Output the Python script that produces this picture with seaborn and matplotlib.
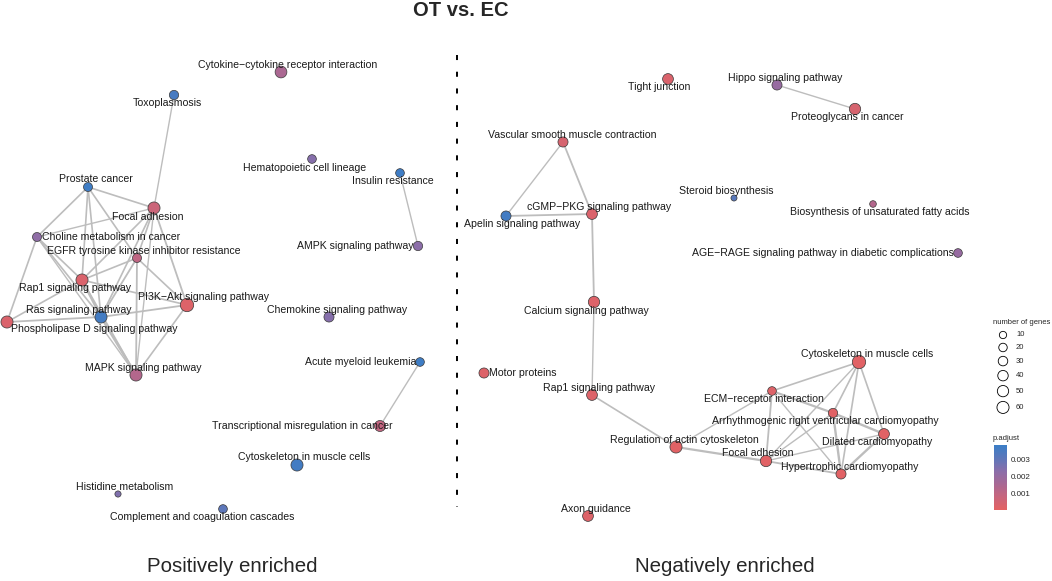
import numpy as np
import pandas as pd
import matplotlib.pyplot as plt
import seaborn as sns
from matplotlib.colors import LinearSegmentedColormap, Normalize
from matplotlib.cm import ScalarMappable

sns.set_style("white")
plt.rcParams['font.family'] = ['Liberation Sans', 'DejaVu Sans']

# ---- positively enriched network (layout coords, gene counts, p.adjust) ----
left_terms = ["Cytokine\u2212cytokine receptor interaction", "Toxoplasmosis", "Hematopoietic cell lineage",
              "Insulin resistance", "AMPK signaling pathway", "Chemokine signaling pathway",
              "Acute myeloid leukemia", "Transcriptional misregulation in cancer", "Cytoskeleton in muscle cells",
              "Complement and coagulation cascades", "Histidine metabolism", "Prostate cancer", "Focal adhesion",
              "Choline metabolism in cancer", "EGFR tyrosine kinase inhibitor resistance", "Rap1 signaling pathway",
              "PI3K\u2212Akt signaling pathway", "Ras signaling pathway", "Phospholipase D signaling pathway",
              "MAPK signaling pathway"]
left_x = [281, 174, 312, 400, 418, 329, 420, 380, 297, 223, 118, 88, 154, 37, 137, 82, 187, 101, 7, 136]
left_y = [72, 95, 159, 173, 246, 317, 362, 426, 465, 509, 494, 187, 208, 237, 258, 280, 305, 317, 322, 375]
left_lx = [288, 167, 305, 393, 355, 337, 361, 302, 304, 202, 125, 96, 148, 111, 144, 75, 203, 79, 94, 143]
left_ly = [65, 103, 168, 181, 246, 310, 362, 426, 457, 517, 487, 179, 217, 237, 251, 288, 297, 310, 329, 368]
left_genes = [56, 28, 22, 22, 28, 36, 22, 47, 60, 22, 2, 25, 60, 25, 25, 60, 78, 60, 60, 60]
left_padj = [0.0015, 0.0036, 0.0024, 0.0038, 0.0023, 0.0024, 0.0038, 0.0009, 0.0037, 0.0031,
             0.0025, 0.0038, 0.0007, 0.0022, 0.0010, 0.0003, 0.0002, 0.0037, 0.0003, 0.0013]
left_edges = [
    ("Toxoplasmosis", "Focal adhesion", 1.0),
    ("Insulin resistance", "AMPK signaling pathway", 1.0),
    ("Acute myeloid leukemia", "Transcriptional misregulation in cancer", 1.0),
    ("Prostate cancer", "Focal adhesion", 1.2),
    ("Prostate cancer", "Choline metabolism in cancer", 1.2),
    ("Prostate cancer", "Rap1 signaling pathway", 1.2),
    ("Prostate cancer", "Ras signaling pathway", 1.2),
    ("Prostate cancer", "EGFR tyrosine kinase inhibitor resistance", 1.2),
    ("Focal adhesion", "Choline metabolism in cancer", 1.0),
    ("Focal adhesion", "Rap1 signaling pathway", 1.2),
    ("Focal adhesion", "Ras signaling pathway", 1.2),
    ("Focal adhesion", "EGFR tyrosine kinase inhibitor resistance", 1.2),
    ("Focal adhesion", "PI3K\u2212Akt signaling pathway", 1.3),
    ("Focal adhesion", "MAPK signaling pathway", 1.0),
    ("Choline metabolism in cancer", "Rap1 signaling pathway", 1.2),
    ("Choline metabolism in cancer", "Ras signaling pathway", 1.2),
    ("Choline metabolism in cancer", "Phospholipase D signaling pathway", 1.2),
    ("Choline metabolism in cancer", "MAPK signaling pathway", 1.0),
    ("EGFR tyrosine kinase inhibitor resistance", "Rap1 signaling pathway", 1.2),
    ("EGFR tyrosine kinase inhibitor resistance", "Ras signaling pathway", 1.3),
    ("EGFR tyrosine kinase inhibitor resistance", "PI3K\u2212Akt signaling pathway", 1.2),
    ("EGFR tyrosine kinase inhibitor resistance", "MAPK signaling pathway", 1.3),
    ("Rap1 signaling pathway", "Ras signaling pathway", 1.7),
    ("Rap1 signaling pathway", "PI3K\u2212Akt signaling pathway", 1.2),
    ("Rap1 signaling pathway", "MAPK signaling pathway", 1.3),
    ("Rap1 signaling pathway", "Phospholipase D signaling pathway", 1.2),
    ("Ras signaling pathway", "PI3K\u2212Akt signaling pathway", 1.3),
    ("Ras signaling pathway", "MAPK signaling pathway", 1.8),
    ("Ras signaling pathway", "Phospholipase D signaling pathway", 1.3),
    ("PI3K\u2212Akt signaling pathway", "MAPK signaling pathway", 1.2),
]

# ---- negatively enriched network ----
right_terms = ["Tight junction", "Hippo signaling pathway", "Proteoglycans in cancer",
               "Vascular smooth muscle contraction", "cGMP\u2212PKG signaling pathway", "Apelin signaling pathway",
               "Steroid biosynthesis", "Biosynthesis of unsaturated fatty acids",
               "AGE\u2212RAGE signaling pathway in diabetic complications", "Calcium signaling pathway",
               "Motor proteins", "Rap1 signaling pathway", "Cytoskeleton in muscle cells",
               "ECM\u2212receptor interaction", "Arrhythmogenic right ventricular cardiomyopathy",
               "Dilated cardiomyopathy", "Regulation of actin cytoskeleton", "Focal adhesion",
               "Hypertrophic cardiomyopathy", "Axon guidance"]
right_x = [668, 777, 855, 563, 592, 506, 734, 873, 958, 594, 484, 592, 859, 772, 833, 884, 676, 766, 841, 588]
right_y = [79, 85, 109, 142, 214, 216, 198, 204, 253, 302, 373, 395, 362, 391, 413, 434, 447, 461, 474, 516]
right_lx = [659, 785, 847, 572, 599, 522, 726, 880, 823, 586, 523, 599, 867, 764, 825, 877, 684, 758, 850, 596]
right_ly = [87, 78, 117, 135, 207, 224, 191, 212, 253, 311, 373, 388, 354, 399, 421, 442, 440, 453, 467, 509]
right_genes = [44, 36, 51, 36, 44, 36, 1, 5, 22, 51, 36, 44, 78, 22, 28, 44, 60, 51, 36, 44]
right_padj = [0.0003, 0.0020, 0.0004, 0.0004, 0.0003, 0.0037, 0.0032, 0.0013, 0.0020, 0.0002,
              0.0002, 0.0002, 0.0001, 0.0002, 0.0001, 0.0001, 0.0001, 0.0001, 0.0001, 0.0002]
right_edges = [
    ("Hippo signaling pathway", "Proteoglycans in cancer", 1.0),
    ("Vascular smooth muscle contraction", "Apelin signaling pathway", 1.0),
    ("Vascular smooth muscle contraction", "cGMP\u2212PKG signaling pathway", 1.3),
    ("Apelin signaling pathway", "cGMP\u2212PKG signaling pathway", 1.3),
    ("cGMP\u2212PKG signaling pathway", "Calcium signaling pathway", 1.3),
    ("Calcium signaling pathway", "Rap1 signaling pathway", 1.0),
    ("Rap1 signaling pathway", "Regulation of actin cytoskeleton", 1.2),
    ("Regulation of actin cytoskeleton", "Focal adhesion", 1.6),
    ("Regulation of actin cytoskeleton", "ECM\u2212receptor interaction", 1.0),
    ("Cytoskeleton in muscle cells", "ECM\u2212receptor interaction", 1.2),
    ("Cytoskeleton in muscle cells", "Arrhythmogenic right ventricular cardiomyopathy", 1.2),
    ("Cytoskeleton in muscle cells", "Dilated cardiomyopathy", 1.2),
    ("Cytoskeleton in muscle cells", "Hypertrophic cardiomyopathy", 1.2),
    ("Cytoskeleton in muscle cells", "Focal adhesion", 1.0),
    ("ECM\u2212receptor interaction", "Focal adhesion", 1.3),
    ("ECM\u2212receptor interaction", "Arrhythmogenic right ventricular cardiomyopathy", 1.6),
    ("ECM\u2212receptor interaction", "Hypertrophic cardiomyopathy", 1.0),
    ("Arrhythmogenic right ventricular cardiomyopathy", "Dilated cardiomyopathy", 1.7),
    ("Arrhythmogenic right ventricular cardiomyopathy", "Hypertrophic cardiomyopathy", 1.7),
    ("Arrhythmogenic right ventricular cardiomyopathy", "Focal adhesion", 1.0),
    ("Dilated cardiomyopathy", "Hypertrophic cardiomyopathy", 1.7),
    ("Dilated cardiomyopathy", "Focal adhesion", 1.0),
    ("Hypertrophic cardiomyopathy", "Focal adhesion", 1.3),
]

legend_genes = [10, 20, 30, 40, 50, 60]
cbar_ticks = [0.001, 0.002, 0.003]

left = pd.DataFrame({"term": left_terms, "x": left_x, "y": left_y, "lx": left_lx, "ly": left_ly,
                     "genes": left_genes, "padj": left_padj})
right = pd.DataFrame({"term": right_terms, "x": right_x, "y": right_y, "lx": right_lx, "ly": right_ly,
                      "genes": right_genes, "padj": right_padj})
nodes = pd.concat([left, right], ignore_index=True)

cmap = LinearSegmentedColormap.from_list(
    "padj", ["#E46262", "#C8657C", "#A86894", "#8A6EAA", "#5C77BA", "#3B7EC6"])
hue_norm = (0.0, 0.0039)
size_norm = (0, 80)
size_range = (18, 95)  # marker area in pt^2

fig = plt.figure(figsize=(10.52, 5.81), dpi=100)
ax = fig.add_axes([0, 0, 1, 1])
ax.set_xlim(0, 1052)
ax.set_ylim(581, 0)
ax.axis("off")

# edges
for df, edges in [(left, left_edges), (right, right_edges)]:
    pos = df.set_index("term")
    for a, b, w in edges:
        ax.plot([pos.loc[a, "x"], pos.loc[b, "x"]], [pos.loc[a, "y"], pos.loc[b, "y"]],
                color="#BDBDBD", lw=w, solid_capstyle="butt", zorder=1)

sns.scatterplot(data=nodes, x="x", y="y", hue="padj", size="genes", palette=cmap, hue_norm=hue_norm,
                sizes=size_range, size_norm=size_norm, edgecolor="#3a3a3a", linewidth=0.5,
                legend=False, zorder=3, ax=ax)

for _, r in nodes.iterrows():
    ax.text(r["lx"], r["ly"], r["term"], ha="center", va="center", fontsize=7.6, color="#1a1a1a", zorder=4)

# title, separator, panel captions
ax.text(461, 11, "OT vs. EC", ha="center", va="center", fontsize=14.5, fontweight="bold")
ax.plot([457, 457], [55, 507], color="black", lw=1.4, ls=(0, (2.6, 6.0)))
for x, s in [(232, "Positively enriched"), (725, "Negatively enriched")]:
    ax.text(x, 572, s, ha="center", va="baseline", fontsize=14.8)

# size legend
ax.text(993, 322, "number of genes", ha="left", va="center", fontsize=5.5)
diam = np.sqrt(np.interp(legend_genes, size_norm, size_range)) / 0.72
ly = [335.0]
for i in range(1, len(legend_genes)):
    ly.append(ly[-1] + (diam[i - 1] + diam[i]) / 2 + 4.6)
leg = pd.DataFrame({"x": 1003, "y": ly, "genes": legend_genes})
sns.scatterplot(data=leg, x="x", y="y", size="genes", sizes=size_range, size_norm=size_norm,
                color="white", edgecolor="black", linewidth=0.6, legend=False, ax=ax)
for y, g in zip(ly, legend_genes):
    ax.text(1016, y, str(g), ha="left", va="center", fontsize=5.5)

# colour bar
ax.text(993, 438, "p.adjust", ha="left", va="center", fontsize=5.5)
cax = fig.add_axes([994 / 1052, 1 - 510 / 581, 13 / 1052, 65 / 581])
cb = fig.colorbar(ScalarMappable(norm=Normalize(*hue_norm), cmap=cmap), cax=cax, ticks=cbar_ticks)
cb.outline.set_visible(False)
cb.ax.set_yticklabels(["0.001", "0.002", "0.003"])
cax.yaxis.set_ticks_position("both")
cax.tick_params(axis="y", which="major", direction="in", color="white", length=2.5, width=0.6,
                labelsize=5.8, labelright=True, labelleft=False, pad=3)

fig.savefig("out.png", dpi=100)
